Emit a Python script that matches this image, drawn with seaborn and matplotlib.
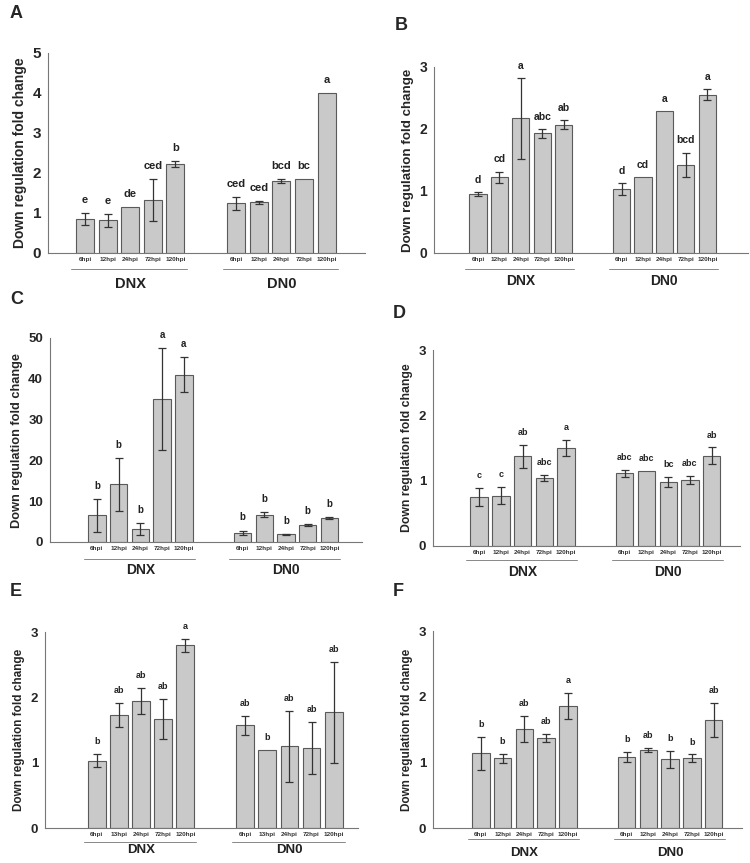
import numpy as np
import pandas as pd
import matplotlib
matplotlib.use("Agg")
import matplotlib.pyplot as plt
import seaborn as sns

sns.set_style("white")
plt.rcParams["font.family"] = ["Liberation Sans", "DejaVu Sans"]

# =========================
# DATA (DNX 5 bars, then DN0 5 bars)
# =========================

groups = ["DNX", "DN0"]
times = ["6hpi", "12hpi", "24hpi", "72hpi", "120hpi"]
times_e = ["6hpi", "13hpi", "24hpi", "72hpi", "120hpi"]

a_mean = [0.85, 0.82, 1.15, 1.33, 2.22, 1.24, 1.27, 1.80, 1.86, 4.00]
a_err = [0.14, 0.16, 0, 0.52, 0.07, 0.17, 0.04, 0.05, 0, 0]
a_let = ["e", "e", "de", "ced", "b", "ced", "ced", "bcd", "bc", "a"]

b_mean = [0.95, 1.22, 2.17, 1.93, 2.07, 1.03, 1.22, 2.29, 1.42, 2.55]
b_err = [0.03, 0.09, 0.65, 0.07, 0.07, 0.10, 0, 0, 0.20, 0.09]
b_let = ["d", "cd", "a", "abc", "ab", "d", "cd", "a", "bcd", "a"]

c_mean = [6.5, 14.1, 3.2, 35.0, 41.0, 2.2, 6.7, 1.9, 4.1, 5.9]
c_err = [4.1, 6.4, 1.5, 12.5, 4.3, 0.6, 0.65, 0.1, 0.2, 0.15]
c_let = ["b", "b", "b", "a", "a", "b", "b", "b", "b", "b"]

d_mean = [0.75, 0.77, 1.37, 1.04, 1.50, 1.11, 1.15, 0.98, 1.01, 1.38]
d_err = [0.14, 0.13, 0.18, 0.05, 0.12, 0.05, 0, 0.08, 0.06, 0.13]
d_let = ["c", "c", "ab", "abc", "a", "abc", "abc", "bc", "abc", "ab"]

e_mean = [1.03, 1.73, 1.94, 1.67, 2.80, 1.57, 1.19, 1.25, 1.23, 1.77]
e_err = [0.10, 0.18, 0.20, 0.31, 0.10, 0.14, 0, 0.54, 0.40, 0.77]
e_let = ["b", "ab", "ab", "ab", "a", "ab", "b", "ab", "ab", "ab"]

f_mean = [1.14, 1.06, 1.51, 1.37, 1.86, 1.08, 1.19, 1.05, 1.06, 1.64]
f_err = [0.25, 0.07, 0.20, 0.06, 0.20, 0.08, 0.03, 0.13, 0.06, 0.26]
f_let = ["b", "b", "ab", "ab", "a", "b", "ab", "b", "b", "ab"]

# =========================
# LAYOUT
# =========================

W, H = 750, 863
pos = np.array([0, 1, 2, 3, 4, 6.7, 7.7, 8.7, 9.7, 10.7])
bar_color = "#c9c9c9"
edge_color = "#5a5a5a"

fig = plt.figure(figsize=(W / 100, H / 100), dpi=100)


def make_axes(left, right, top, bottom):
    return fig.add_axes([left / W, 1 - bottom / H, (right - left) / W, (bottom - top) / H])


def panel(ax, mean, err, letters, labels, ymax, step, xlim, tag, tag_xy,
          tick_fs, ylab_fs, let_fs, grp_fs, under_px, grp_px):
    mean = np.array(mean)
    err = np.array(err)
    df = pd.DataFrame({"pos": pos, "val": mean})
    sns.barplot(data=df, x="pos", y="val", native_scale=True, color=bar_color,
                saturation=1, edgecolor=edge_color, linewidth=0.8, width=0.8,
                errorbar=None, ax=ax)
    m = err > 0
    ax.errorbar(pos[m], mean[m], yerr=err[m], fmt="none", ecolor="#333333",
                elinewidth=0.9, capsize=3, capthick=0.9)

    for x, v, e, t in zip(pos, mean, err, letters):
        ax.text(x, v + e + 0.04 * ymax, t, ha="center", va="bottom",
                fontsize=let_fs, fontweight="bold", color="#222222")

    ax.set_xlim(*xlim)
    ax.set_ylim(0, ymax)
    ax.set_yticks(np.arange(0, ymax + step / 2, step))
    ax.set_yticklabels([str(int(t)) for t in np.arange(0, ymax + step / 2, step)],
                       fontsize=tick_fs, fontweight="bold")
    ax.set_xticks(pos)
    ax.set_xticklabels(labels + labels, fontsize=4.6, fontweight="bold", color="#333333")
    ax.tick_params(axis="x", length=0, pad=3)
    ax.tick_params(axis="y", length=3, width=0.8, color="#777777", direction="out", pad=2)
    ax.set_xlabel("")
    ax.set_ylabel("Down regulation fold change", fontsize=ylab_fs, fontweight="bold")
    sns.despine(ax=ax)
    for s in ["left", "bottom"]:
        ax.spines[s].set_color("#777777")
        ax.spines[s].set_linewidth(0.8)

    h_px = ax.get_position().height * H
    tr = ax.get_xaxis_transform()
    for g, start in zip(groups, [pos[0], pos[5]]):
        ax.plot([start - 0.6, start + 4.5], [-under_px / h_px] * 2, color="#888888",
                lw=0.7, transform=tr, clip_on=False)
        ax.text(start + 2, -grp_px / h_px, g, transform=tr, ha="center", va="top",
                fontsize=grp_fs, fontweight="bold", color="#222222")

    fig.text(tag_xy[0] / W, 1 - tag_xy[1] / H, tag, fontsize=13, fontweight="bold",
             ha="left", va="center")


ax_a = make_axes(48, 365, 53, 253)
panel(ax_a, a_mean, a_err, a_let, times, 5, 1, (-1.64, 12.4), "A", (10, 13),
      11, 10, 8, 10.5, 16, 24)

ax_b = make_axes(434, 748, 67, 253)
panel(ax_b, b_mean, b_err, b_let, times, 3, 1, (-2.05, 12.6), "B", (395, 25),
      10, 9.6, 7.5, 10, 16, 21)

ax_c = make_axes(50, 362, 338, 542)
panel(ax_c, c_mean, c_err, c_let, times, 50, 10, (-2.16, 12.2), "C", (10, 300),
      9.5, 9.2, 7, 10, 17, 21)

ax_d = make_axes(433, 740, 350, 546)
panel(ax_d, d_mean, d_err, d_let, times, 3, 1, (-2.12, 12.0), "D", (393, 313),
      9.5, 8.8, 6.5, 10, 14, 19)

ax_e = make_axes(45, 358, 632, 828)
panel(ax_e, e_mean, e_err, e_let, times_e, 3, 1, (-2.34, 11.8), "E", (10, 592),
      9.5, 8.5, 6.5, 9.5, 14, 16)

ax_f = make_axes(433, 742, 631, 828)
panel(ax_f, f_mean, f_err, f_let, times, 3, 1, (-2.2, 12.0), "F", (393, 592),
      9.5, 8.5, 6.5, 9.5, 11, 19)

fig.savefig("out.png", dpi=100)
